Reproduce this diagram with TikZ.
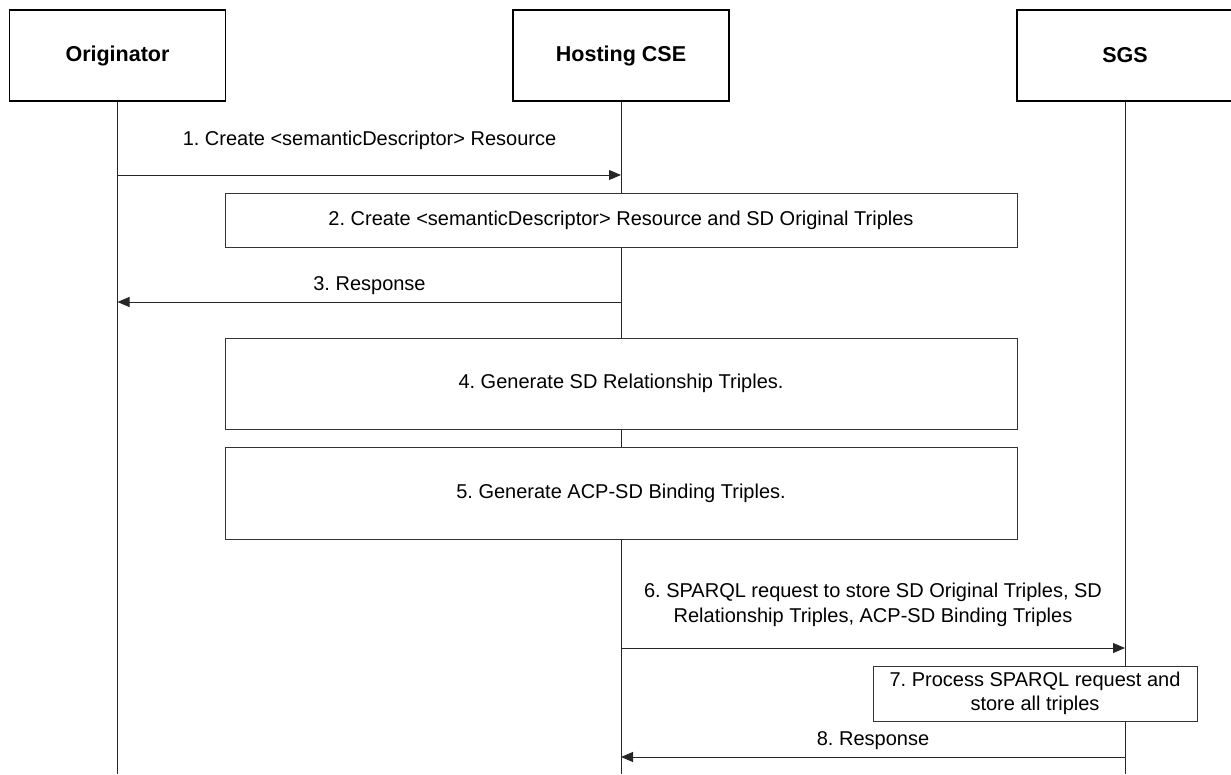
\documentclass[tikz,border=0pt]{standalone}
\usepackage{fontspec}
\setmainfont{Liberation Sans}
\usetikzlibrary{arrows.meta}
\begin{document}
\frenchspacing
\begin{tikzpicture}[x=1pt,y=-1pt,
  actor/.style={draw=black,line width=1.4pt,fill=white,minimum width=216pt,minimum height=91pt,inner sep=0pt,font=\fontsize{21.5}{26}\selectfont\bfseries},
  stepbox/.style={draw=black!80,line width=1pt,fill=white,inner sep=0pt,align=center,font=\fontsize{20}{24}\selectfont},
  life/.style={line width=1pt,draw=black!85},
  msg/.style={line width=1pt,draw=black!85,-{Triangle[length=12pt,width=10pt]}},
  lbl/.style={font=\fontsize{20}{25}\selectfont,align=center,inner sep=0pt}]
\useasboundingbox (0,0) rectangle (1231,774);
% actors
\node[actor] (orig) at (117.5,55.5) {\raisebox{-2pt}{Originator}};
\node[actor] (host) at (621,55.5) {\raisebox{-2pt}{Hosting CSE}};
\node[actor] (sgs) at (1125,55.5) {\raisebox{-2pt}{SGS}};
% lifeline ends
\coordinate (origEnd) at (117.5,774);
\coordinate (hostEnd) at (621,774);
\coordinate (sgsEnd) at (1125,774);
\draw[life] (orig.south) -- (origEnd);
\draw[life] (host.south) -- (hostEnd);
\draw[life] (sgs.south) -- (sgsEnd);
% step boxes
\node[stepbox,minimum width=792pt,minimum height=54pt] (s2) at (621,220) {2. Create \textless semanticDescriptor\textgreater{} Resource and SD Original Triples};
\node[stepbox,minimum width=792pt,minimum height=91pt] (s4) at (621,383.5) {4. Generate SD Relationship Triples.};
\node[stepbox,minimum width=792pt,minimum height=92pt] (s5) at (621,493) {5. Generate ACP-SD Binding Triples.};
\node[stepbox,minimum width=324pt,minimum height=55pt] (s7) at (1035,693.5) {7. Process SPARQL request and\\store all triples};
% message coordinates
\coordinate (o1) at (117.5,175);
\coordinate (h1) at (621,175);
\coordinate (o3) at (117.5,302);
\coordinate (h3) at (621,302);
\coordinate (h6) at (621,648);
\coordinate (g6) at (1125,648);
\coordinate (h8) at (621,757);
\coordinate (g8) at (1125,757);
\draw[msg] (o1) -- (h1);
\draw[msg] (h3) -- (o3);
\draw[msg] (h6) -- (g6);
\draw[msg] (g8) -- (h8);
% labels
\node[lbl] (l1) at (369.5,140) {1. Create \textless semanticDescriptor\textgreater{} Resource};
\node[lbl] (l3) at (369.5,286) {3. Response};
\node[lbl] (l6) at (873,604.5) {6. SPARQL request to store SD Original Triples, SD\\Relationship Triples, ACP-SD Binding Triples};
\node[lbl] (l8) at (873,741) {8. Response};
\end{tikzpicture}
\end{document}
